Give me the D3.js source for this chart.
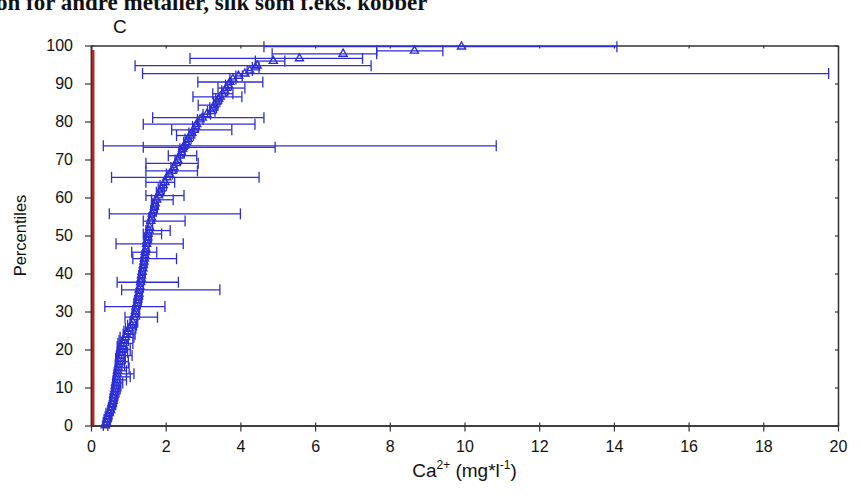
<!DOCTYPE html>
<meta charset="utf-8">
<script src="https://cdn.jsdelivr.net/npm/d3@7"></script>
<style>
  body { margin: 0; background: #fff; }
</style>
<div id="chart"></div>
<script>
// percentile of each site (sorted)
var pct = [0.0, 0.8, 1.6, 2.4, 3.2, 4.0, 4.8, 5.6, 6.4, 7.2, 8.0, 8.8, 9.6, 10.4, 11.2, 12.0, 12.8, 13.6, 14.4, 15.2,
  16.0, 16.8, 17.6, 18.4, 19.2, 20.0, 20.8, 21.6, 22.4, 23.2, 24.0, 24.8, 25.6, 26.4, 27.2, 28.5, 29.3, 30.1, 31.3, 32.2,
  33.0, 33.9, 34.7, 35.7, 36.6, 37.7, 38.6, 39.5, 40.4, 41.3, 42.2, 43.1, 43.9, 44.8, 45.6, 46.5, 47.8, 48.7, 49.5, 50.4,
  51.3, 52.2, 53.8, 54.7, 55.7, 56.6, 57.5, 58.4, 59.4, 60.5, 61.4, 62.3, 63.2, 64.0, 65.3, 66.2, 67.0, 67.9, 69.0, 69.9,
  71.0, 71.9, 72.8, 73.2, 73.6, 74.5, 75.4, 76.3, 77.0, 77.8, 78.7, 79.3, 80.5, 81.0, 81.9, 82.7, 83.6, 84.3, 85.2, 86.0,
  86.5, 87.3, 88.1, 88.8, 89.6, 90.4, 91.2, 92.0, 92.6, 93.4, 94.2, 94.7, 95.9, 96.6, 97.8, 98.6, 99.7];
// median Ca2+ (mg/l)
var med = [0.38, 0.40, 0.42, 0.45, 0.48, 0.52, 0.54, 0.56, 0.58, 0.60, 0.61, 0.62, 0.64, 0.65, 0.66, 0.68, 0.69, 0.70, 0.71, 0.73,
  0.74, 0.76, 0.78, 0.80, 0.81, 0.82, 0.84, 0.86, 0.88, 0.92, 0.95, 0.98, 1.02, 1.08, 1.12, 1.15, 1.17, 1.19, 1.21, 1.23,
  1.25, 1.27, 1.28, 1.29, 1.31, 1.33, 1.34, 1.35, 1.37, 1.39, 1.40, 1.42, 1.43, 1.44, 1.45, 1.47, 1.49, 1.50, 1.52, 1.53,
  1.55, 1.57, 1.60, 1.62, 1.64, 1.67, 1.70, 1.72, 1.76, 1.80, 1.84, 1.88, 1.93, 1.98, 2.03, 2.10, 2.18, 2.22, 2.28, 2.32,
  2.38, 2.42, 2.45, 2.47, 2.50, 2.55, 2.60, 2.65, 2.70, 2.76, 2.80, 2.83, 2.92, 2.98, 3.10, 3.22, 3.27, 3.30, 3.36, 3.42,
  3.46, 3.52, 3.58, 3.62, 3.68, 3.72, 3.80, 3.95, 4.12, 4.25, 4.40, 4.45, 4.88, 5.58, 6.75, 8.66, 9.92];
// lower end of error bar
var lo = [0.33, 0.33, 0.35, 0.38, 0.40, 0.45, 0.47, 0.50, 0.50, 0.52, 0.55, 0.55, 0.56, 0.58, 0.58, 0.60, 0.62, 0.62, 0.65, 0.66,
  0.65, 0.68, 0.66, 0.68, 0.70, 0.72, 0.70, 0.72, 0.75, 0.78, 0.86, 0.88, 0.92, 0.98, 1.05, 0.91, 1.10, 1.12, 0.37, 1.15,
  1.18, 1.20, 1.22, 0.82, 1.24, 0.70, 1.27, 1.28, 1.30, 1.32, 1.33, 1.35, 1.12, 1.38, 1.09, 1.40, 0.67, 1.43, 1.45, 1.40,
  1.47, 1.50, 1.40, 1.55, 0.49, 1.60, 1.62, 1.65, 1.62, 1.47, 1.75, 1.80, 1.85, 1.47, 0.55, 2.02, 1.47, 2.14, 1.47, 2.25,
  2.07, 2.35, 2.38, 1.40, 0.33, 2.48, 2.52, 2.29, 2.62, 2.16, 2.72, 1.40, 2.85, 1.65, 3.00, 3.12, 3.18, 2.87, 3.28, 3.34,
  2.73, 3.26, 3.50, 3.40, 3.60, 2.86, 3.72, 3.88, 1.38, 4.18, 4.32, 1.18, 4.40, 2.65, 4.85, 7.65, 4.63];
// upper end of error bar
var hi = [0.45, 0.50, 0.52, 0.55, 0.56, 0.60, 0.62, 0.66, 0.68, 0.70, 0.72, 0.75, 0.78, 0.80, 0.85, 0.95, 1.05, 1.15, 0.95, 1.02,
  0.90, 1.00, 0.92, 1.10, 0.98, 1.05, 0.95, 1.12, 1.00, 1.15, 1.18, 1.12, 1.20, 1.22, 1.25, 1.78, 1.30, 1.28, 1.98, 1.32,
  1.35, 1.36, 1.38, 3.45, 1.40, 2.34, 1.42, 1.44, 1.45, 1.46, 1.48, 1.50, 2.29, 1.52, 1.76, 1.55, 2.47, 1.58, 1.62, 1.89,
  2.12, 1.65, 2.52, 1.70, 4.00, 1.75, 1.78, 1.80, 2.20, 2.49, 1.92, 1.96, 2.02, 2.24, 4.50, 2.18, 2.85, 2.30, 2.87, 2.40,
  2.83, 2.50, 2.52, 4.93, 10.85, 2.62, 2.68, 2.74, 2.78, 3.77, 2.88, 4.39, 3.00, 4.63, 3.20, 3.32, 3.36, 3.40, 3.45, 3.50,
  4.04, 3.80, 3.66, 4.12, 3.76, 4.60, 3.88, 4.05, 19.75, 4.32, 4.50, 7.50, 5.19, 7.27, 7.65, 9.42, 14.08];

var xTicks = [0, 2, 4, 6, 8, 10, 12, 14, 16, 18, 20];
var yTicks = [0, 10, 20, 30, 40, 50, 60, 70, 80, 90, 100];
var refValue = 0.06;     // red reference line
var refTop = 98.8;

var blue = "#2e2ed6";
var W = 861, H = 498;

var svg = d3.select("#chart").append("svg")
  .attr("width", W).attr("height", H)
  .style("font-family", "Arial, 'Liberation Sans', sans-serif");

// bit of page text cut off above the figure
svg.append("text")
  .attr("x", -4).attr("y", 10)
  .style("font-family", "'Liberation Serif', 'Times New Roman', serif")
  .style("font-size", "23px")
  .style("font-weight", "bold")
  .attr("fill", "#111")
  .text("on for andre metaller, slik som f.eks. kobber");

var x = d3.scaleLinear().domain([0, 20]).range([91, 838]);
var y = d3.scaleLinear().domain([0, 100]).range([425.5, 45.5]);

// frame + axes
function styleAxis(g) {
  g.select(".domain").attr("stroke", "#333").attr("stroke-width", 1.5);
  g.selectAll(".tick line").attr("stroke", "#333").attr("stroke-width", 1.2);
  g.selectAll(".tick text").attr("fill", "#111").style("font-size", "16px");
}

svg.append("g").attr("transform", "translate(0," + y(0) + ")")
  .call(d3.axisBottom(x).tickValues(xTicks).tickSize(6).tickSizeOuter(0).tickPadding(9))
  .call(styleAxis);
svg.append("g").attr("transform", "translate(0," + y(0) + ")")
  .call(d3.axisBottom(x).tickValues(xTicks).tickSize(-3).tickSizeOuter(0).tickFormat(""))
  .call(styleAxis);
svg.append("g").attr("transform", "translate(0," + y(100) + ")")
  .call(d3.axisTop(x).tickValues(xTicks).tickSize(-3).tickSizeOuter(0).tickFormat(""))
  .call(styleAxis);

svg.append("g").attr("transform", "translate(" + x(0) + ",0)")
  .call(d3.axisLeft(y).tickValues(yTicks).tickSize(6).tickSizeOuter(0).tickPadding(12))
  .call(styleAxis);
svg.append("g").attr("transform", "translate(" + x(0) + ",0)")
  .call(d3.axisLeft(y).tickValues(yTicks).tickSize(-3).tickSizeOuter(0).tickFormat(""))
  .call(styleAxis);
svg.append("g").attr("transform", "translate(" + x(20) + ",0)")
  .call(d3.axisRight(y).tickValues(yTicks).tickSize(-3).tickSizeOuter(0).tickFormat(""))
  .call(styleAxis);

// red reference line
svg.append("line")
  .attr("x1", x(refValue)).attr("x2", x(refValue))
  .attr("y1", y(0)).attr("y2", y(refTop))
  .attr("stroke", "#b3231f").attr("stroke-width", 2.4);

// error bars
var idx = d3.range(pct.length);
var bars = svg.append("g").attr("stroke", blue).attr("stroke-width", 1.3).attr("fill", "none");

bars.selectAll(".bar").data(idx).enter().append("line")
  .attr("x1", function(i) { return x(lo[i]); })
  .attr("x2", function(i) { return x(hi[i]); })
  .attr("y1", function(i) { return y(pct[i]); })
  .attr("y2", function(i) { return y(pct[i]); });

bars.selectAll(".capL").data(idx).enter().append("line")
  .attr("x1", function(i) { return x(lo[i]); })
  .attr("x2", function(i) { return x(lo[i]); })
  .attr("y1", function(i) { return y(pct[i]) - 5.5; })
  .attr("y2", function(i) { return y(pct[i]) + 5.5; });

bars.selectAll(".capR").data(idx).enter().append("line")
  .attr("x1", function(i) { return x(hi[i]); })
  .attr("x2", function(i) { return x(hi[i]); })
  .attr("y1", function(i) { return y(pct[i]) - 5.5; })
  .attr("y2", function(i) { return y(pct[i]) + 5.5; });

// median markers
svg.append("g").selectAll("path").data(idx).enter().append("path")
  .attr("d", d3.symbol().type(d3.symbolTriangle).size(28))
  .attr("transform", function(i) { return "translate(" + x(med[i]) + "," + y(pct[i]) + ")"; })
  .attr("fill", "none").attr("stroke", blue).attr("stroke-width", 1.4);

// labels
svg.append("text")
  .attr("x", 113).attr("y", 33)
  .style("font-size", "19px").attr("fill", "#111")
  .text("C");

svg.append("text")
  .attr("transform", "translate(26," + y(50) + ") rotate(-90)")
  .attr("text-anchor", "middle")
  .style("font-size", "16.5px").attr("fill", "#111")
  .text("Percentiles");

var xl = svg.append("text")
  .attr("x", x(10)).attr("y", 477)
  .attr("text-anchor", "middle")
  .style("font-size", "19px").attr("fill", "#111");
xl.append("tspan").text("Ca");
xl.append("tspan").attr("dy", -8).style("font-size", "12px").text("2+");
xl.append("tspan").attr("dy", 8).text(" (mg*l");
xl.append("tspan").attr("dy", -8).style("font-size", "12px").text("-1");
xl.append("tspan").attr("dy", 8).text(")");
</script>
